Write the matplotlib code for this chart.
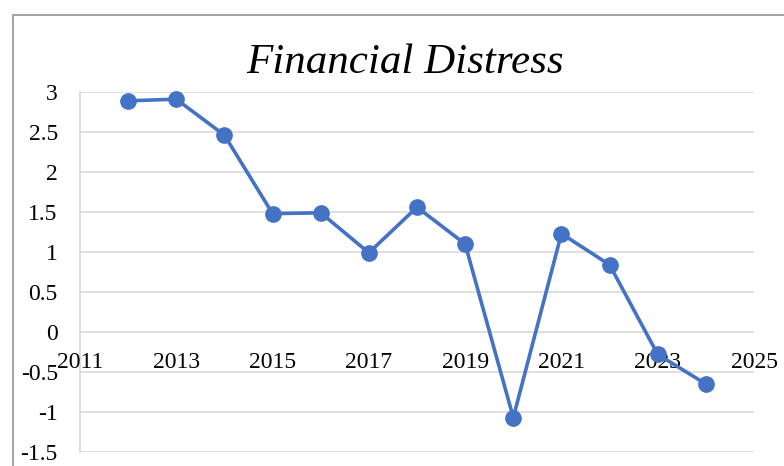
import matplotlib
matplotlib.use("Agg")
import matplotlib.pyplot as plt
from matplotlib.patches import Rectangle

years = [2012, 2013, 2014, 2015, 2016, 2017, 2018, 2019, 2020, 2021, 2022, 2023, 2024]
distress = [2.89, 2.91, 2.46, 1.48, 1.49, 0.99, 1.56, 1.10, -1.07, 1.23, 0.84, -0.28, -0.65]
x_ticks = [2011, 2013, 2015, 2017, 2019, 2021, 2023, 2025]
y_ticks = [-1.5, -1, -0.5, 0, 0.5, 1, 1.5, 2, 2.5, 3]
title = "Financial Distress"

W, H = 784, 466
fig = plt.figure(figsize=(W / 100, H / 100), dpi=100)
serif = ["Liberation Serif", "DejaVu Serif"]

# outer chart border
fig.patches.append(Rectangle((13 / W, -0.1), 2, (H - 15) / H + 0.1,
                             transform=fig.transFigure, fill=False,
                             edgecolor="#a6a6a6", linewidth=1.5))

left, right, top, bottom = 80, 754, 92, 452
ax = fig.add_axes([left / W, 1 - bottom / H, (right - left) / W, (bottom - top) / H])
ax.set_xlim(2011, 2025)
ax.set_ylim(-1.5, 3)

for s in ["top", "right", "bottom"]:
    ax.spines[s].set_visible(False)
ax.spines["left"].set_color("#d9d9d9")
ax.spines["left"].set_linewidth(1.2)

ax.set_yticks(y_ticks)
ax.set_yticklabels([f"{v:g}" for v in y_ticks])
ax.yaxis.grid(True, color="#d9d9d9", linewidth=1.2)
ax.set_axisbelow(True)
ax.tick_params(axis="y", length=0, pad=16, labelsize=17)
for lab in ax.get_yticklabels():
    lab.set_fontfamily(serif)

ax.set_xticks([])
for xv in x_ticks:
    ax.annotate(str(xv), xy=(xv, 0), xycoords="data", xytext=(0, -26),
                textcoords="offset points", ha="center", va="baseline",
                fontsize=17, family=serif)

ax.plot(years, distress, color="#4472c4", linewidth=2.6, marker="o",
        markersize=11, zorder=3, clip_on=False)

fig.text((250 + 560) / 2 / W, 1 - 73 / H, title, ha="center", va="baseline",
         fontsize=31, style="italic", family=serif)

fig.savefig("out.png", dpi=100)
